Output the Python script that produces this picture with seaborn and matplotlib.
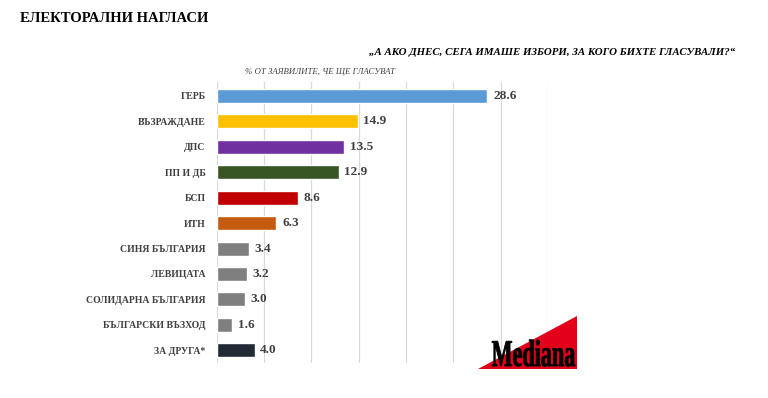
import matplotlib

matplotlib.use("Agg")
import matplotlib.pyplot as plt
import seaborn as sns
from matplotlib.font_manager import FontProperties
from matplotlib.patches import PathPatch, Polygon
from matplotlib.textpath import TextPath
from matplotlib.transforms import Affine2D

parties = [
    "ГЕРБ",
    "ВЪЗРАЖДАНЕ",
    "ДПС",
    "ПП И ДБ",
    "БСП",
    "ИТН",
    "СИНЯ БЪЛГАРИЯ",
    "ЛЕВИЦАТА",
    "СОЛИДАРНА БЪЛГАРИЯ",
    "БЪЛГАРСКИ ВЪЗХОД",
    "ЗА ДРУГА*",
]
values = [28.6, 14.9, 13.5, 12.9, 8.6, 6.3, 3.4, 3.2, 3.0, 1.6, 4.0]
colors = [
    "#5B9BD5", "#FFC000", "#7030A0", "#375623", "#C00000", "#C55A11",
    "#7F7F7F", "#7F7F7F", "#7F7F7F", "#7F7F7F", "#222A35",
]

sns.set_style("white")
plt.rcParams["font.family"] = ["Liberation Serif", "DejaVu Serif"]

W, H = 768, 398
fig = plt.figure(figsize=(W / 100, H / 100), dpi=100)
ax = fig.add_axes([216.7 / W, 1 - 363 / H, 331.3 / W, 281 / H])

sns.barplot(x=values, y=parties, hue=parties, palette=colors, legend=False,
            width=0.55, saturation=1, ax=ax, zorder=3)
ax.set_xlim(0, 35)
ax.set_ylim(10.5, -0.55)
ax.set_xticks(range(0, 36, 5))
ax.tick_params(axis="x", length=0, labelbottom=False)
ax.tick_params(axis="y", length=0, pad=8)
ax.grid(axis="x", color="#D9D9D9", linewidth=0.9, zorder=0)
for s in ax.spines.values():
    s.set_visible(False)
ax.set_xlabel("")
ax.set_ylabel("")
for lbl in ax.get_yticklabels():
    lbl.set_fontweight("bold")
    lbl.set_fontsize(7.0)
    lbl.set_color("#404040")

for i, v in enumerate(values):
    ax.text(v + 0.6, i, f"{v:.1f}", va="center", ha="left", fontsize=9.5,
            fontweight="bold", color="#404040")

fig.text(20 / W, 1 - 18 / H, "ЕЛЕКТОРАЛНИ НАГЛАСИ", fontsize=10.5,
         fontweight="bold", va="center", ha="left", color="black")
fig.text(735 / W, 1 - 52 / H,
         "„А АКО ДНЕС, СЕГА ИМАШЕ ИЗБОРИ, ЗА КОГО БИХТЕ ГЛАСУВАЛИ?“",
         fontsize=7.8, fontweight="bold", fontstyle="italic", va="center",
         ha="right", color="black")
fig.text(245 / W, 1 - 72 / H, "% ОТ ЗАЯВИЛИТЕ, ЧЕ ЩЕ ГЛАСУВАТ", fontsize=6.3,
         fontstyle="italic", va="center", ha="left", color="#404040")

# Mediana logo
tri = [(478 / W, 1 - 369 / H), (577 / W, 1 - 316 / H), (577 / W, 1 - 369 / H)]
fig.patches.append(Polygon(tri, closed=True, transform=fig.transFigure,
                           facecolor="#E3001B", edgecolor="none"))
tp = TextPath((0, 0), "Mediana", size=1,
              prop=FontProperties(family="Liberation Serif", weight="bold"))
bb = tp.get_extents()
sx = 83 / bb.width
sy = 25 / 0.66
trans = (Affine2D().translate(-bb.x0, 0).scale(sx / W, sy / H)
         .translate(492 / W, 1 - 366 / H) + fig.transFigure)
fig.patches.append(PathPatch(tp, transform=trans, facecolor="black",
                             edgecolor="black", linewidth=0.6))

fig.savefig("out.png", dpi=100)
